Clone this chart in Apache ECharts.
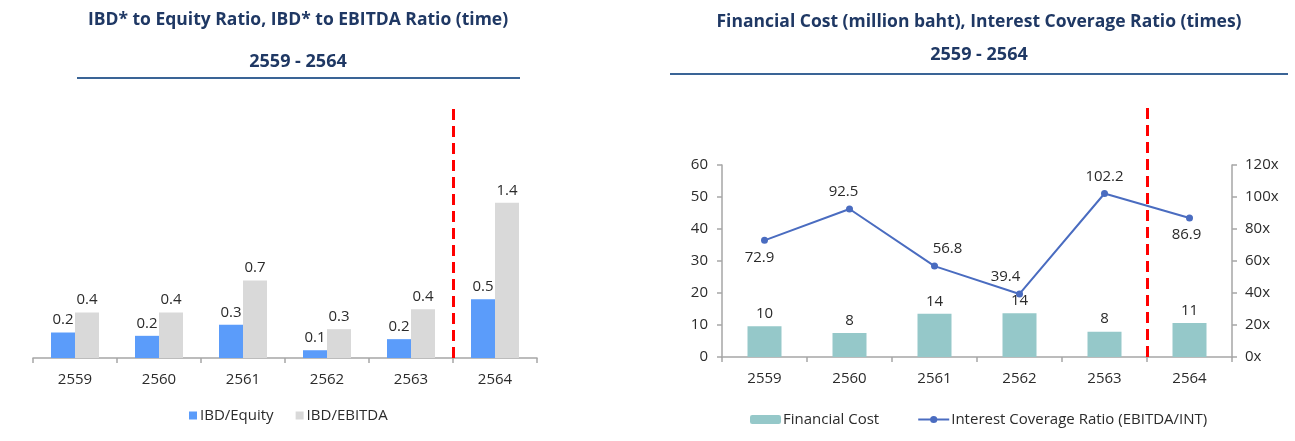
<!DOCTYPE html>
<html>
<head>
<meta charset="utf-8">
<title>IBD ratios / Financial cost</title>
<script src="https://cdn.jsdelivr.net/npm/echarts@6/dist/echarts.min.js"></script>
<style>
	html, body { margin: 0; padding: 0; background: #fff; }
	#chart { width: 1295px; height: 441px; }
</style>
</head>
<body>
<div id="chart"></div>
<script>
// categories (Thai Buddhist years)
var years = ["2559", "2560", "2561", "2562", "2563", "2564"];
var forecastYear = "2564";

// left chart: IBD ratios (times)
var ibdEquity = [0.23, 0.2, 0.3, 0.07, 0.17, 0.53];
var ibdEbitda = [0.41, 0.41, 0.7, 0.26, 0.44, 1.4];

// right chart: financial cost (million baht) and interest coverage (x)
var financialCost = [9.6, 7.5, 13.5, 13.7, 7.9, 10.6];
var coverageRatio = [72.9, 92.5, 56.8, 39.4, 102.2, 86.9];

var leftTicks = [0, 10, 20, 30, 40, 50, 60];
var rightTicks = [0, 20, 40, 60, 80, 100, 120];

// label placement for the coverage line (style only)
var coverageLabelPos = ["bottom", "top", "top", "top", "top", "bottom"];
var coverageLabelShift = [[-5, 0], [-6, 0], [13, 0], [-14, 0], [0, 0], [-3, 0]];

var FONT = "Open Sans";
var NAVY = "#1f3864";
var TXT = "#2b2b2b";
var AXIS = "#a6a6a6";

var splitAt = years.indexOf(forecastYear);

var chart = echarts.init(document.getElementById("chart"), null, { renderer: "canvas" });

function dashedDivider(xIdx, yIdx) {
	return {
		type: "line",
		xAxisIndex: xIdx,
		yAxisIndex: yIdx,
		data: [],
		silent: true,
		markLine: {
			silent: true,
			symbol: ["none", "none"],
			label: { show: false },
			lineStyle: { color: "#ff0000", width: 3, type: [11, 6] },
			data: [{ xAxis: splitAt }]
		}
	};
}

var catAxis = function(gridIdx) {
	return {
		type: "category",
		gridIndex: gridIdx,
		data: years,
		axisLine: { lineStyle: { color: AXIS, width: 1.5 } },
		axisTick: { show: true, length: 5, lineStyle: { color: AXIS, width: 1.5 } },
		axisLabel: { color: TXT, fontFamily: FONT, fontSize: 15, margin: 14 }
	};
};

function heading(text, x, y, size) {
	return {
		type: "text",
		x: x,
		y: y,
		style: { text: text, fill: NAVY, font: "bold " + size + "px '" + FONT + "'", align: "center", verticalAlign: "middle" }
	};
}

var option = {
	animation: false,
	textStyle: { fontFamily: FONT },
	graphic: [
		heading("IBD* to Equity Ratio, IBD* to EBITDA Ratio (time)", 298, 20, 17.5),
		heading("2559 - 2564", 298, 62, 18),
		{ type: "line", shape: { x1: 77, y1: 78, x2: 520, y2: 78 }, style: { stroke: "#3a6496", lineWidth: 2 } },
		heading("Financial Cost (million baht), Interest Coverage Ratio (times)", 979, 22, 17.5),
		heading("2559 - 2564", 979, 55, 18),
		{ type: "line", shape: { x1: 670, y1: 74, x2: 1288, y2: 74 }, style: { stroke: "#3a6496", lineWidth: 2 } }
	],
	legend: [
		{
			data: ["IBD/Equity", "IBD/EBITDA"],
			left: 184,
			top: 403,
			icon: "rect",
			itemWidth: 8,
			itemHeight: 8,
			itemGap: 22,
			textStyle: { color: TXT, fontFamily: FONT, fontSize: 15, padding: [0, 0, 0, -2] }
		},
		{
			data: ["Financial Cost", "Interest Coverage Ratio (EBITDA/INT)"],
			left: 745,
			top: 407,
			itemWidth: 31,
			itemHeight: 9,
			itemGap: 38,
			textStyle: { color: TXT, fontFamily: FONT, fontSize: 15, padding: [0, 0, 0, -3] }
		}
	],
	grid: [
		{ left: 33, top: 103, width: 504, height: 255 },
		{ left: 722, top: 165, width: 510, height: 192 },
		{ left: 722, top: 107, width: 510, height: 250 }
	],
	xAxis: [
		catAxis(0),
		{ type: "value", gridIndex: 0, min: 0, max: years.length, show: false },
		catAxis(1),
		{ type: "value", gridIndex: 2, min: 0, max: years.length, show: false }
	],
	yAxis: [
		{ type: "value", gridIndex: 0, min: 0, max: 2.3, show: false },
		{
			type: "value",
			gridIndex: 1,
			min: leftTicks[0],
			max: leftTicks[leftTicks.length - 1],
			interval: leftTicks[1] - leftTicks[0],
			splitLine: { show: false },
			axisLine: { show: true, lineStyle: { color: AXIS, width: 1.5 } },
			axisTick: { show: true, length: 5, lineStyle: { color: AXIS, width: 1.5 } },
			axisLabel: { color: TXT, fontFamily: FONT, fontSize: 15, margin: 14 }
		},
		{
			type: "value",
			gridIndex: 1,
			position: "right",
			min: rightTicks[0],
			max: rightTicks[rightTicks.length - 1],
			interval: rightTicks[1] - rightTicks[0],
			splitLine: { show: false },
			axisLine: { show: true, lineStyle: { color: AXIS, width: 1.5 } },
			axisTick: { show: true, length: 5, lineStyle: { color: AXIS, width: 1.5 } },
			axisLabel: { color: TXT, fontFamily: FONT, fontSize: 15, margin: 13, formatter: "{value}x" }
		},
		{ type: "value", gridIndex: 2, min: 0, max: 1, show: false }
	],
	series: [
		{
			name: "IBD/Equity",
			type: "bar",
			xAxisIndex: 0,
			yAxisIndex: 0,
			barWidth: 24,
			barGap: "0%",
			itemStyle: { color: "#5b9cfa" },
			label: {
				show: true,
				position: "top",
				distance: 5,
				color: TXT,
				fontFamily: FONT,
				fontSize: 15,
				formatter: function(p) { return p.value.toFixed(1); }
			},
			data: ibdEquity
		},
		{
			name: "IBD/EBITDA",
			type: "bar",
			xAxisIndex: 0,
			yAxisIndex: 0,
			barWidth: 24,
			barGap: "0%",
			itemStyle: { color: "#d9d9d9" },
			label: {
				show: true,
				position: "top",
				distance: 5,
				color: TXT,
				fontFamily: FONT,
				fontSize: 15,
				formatter: function(p) { return p.value.toFixed(1); }
			},
			data: ibdEbitda
		},
		dashedDivider(1, 0),
		{
			name: "Financial Cost",
			type: "bar",
			xAxisIndex: 2,
			yAxisIndex: 1,
			barWidth: 34,
			itemStyle: { color: "#95c8c9" },
			label: {
				show: true,
				position: "top",
				distance: 5,
				color: TXT,
				fontFamily: FONT,
				fontSize: 15,
				formatter: function(p) { return Math.round(p.value); }
			},
			data: financialCost
		},
		{
			name: "Interest Coverage Ratio (EBITDA/INT)",
			type: "line",
			xAxisIndex: 2,
			yAxisIndex: 2,
			symbol: "circle",
			symbolSize: 7,
			itemStyle: { color: "#4a6cc0" },
			lineStyle: { color: "#4a6cc0", width: 2 },
			label: { show: true, color: TXT, fontFamily: FONT, fontSize: 15, distance: 6 },
			data: coverageRatio.map(function(v, i) {
				return {
					value: v,
					label: { position: coverageLabelPos[i], offset: coverageLabelShift[i] }
				};
			})
		},
		dashedDivider(3, 3)
	]
};

chart.setOption(option);
</script>
</body>
</html>
